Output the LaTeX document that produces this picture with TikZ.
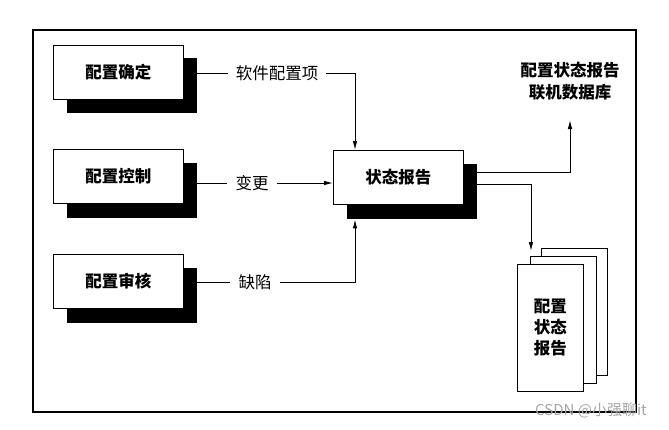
\documentclass[tikz,border=0pt]{standalone}
\usepackage{fontspec}
\newfontfamily\cjk{Noto Sans CJK SC}
\usetikzlibrary{arrows.meta}
\begin{document}
\begin{tikzpicture}[x=1pt,y=-1pt,
  mainbox/.style={draw, fill=white, line width=0.9pt, minimum width=130pt, minimum height=54pt, inner sep=0pt, anchor=north west, font=\cjk\bfseries\fontsize{16.5}{19}\selectfont},
  shadowbox/.style={fill=black, minimum width=130pt, minimum height=55pt, inner sep=0pt, anchor=north west},
  lbl/.style={font=\cjk\fontsize{16.5}{19}\selectfont, inner xsep=8pt, inner ysep=0pt},
  conn/.style={line width=0.9pt},
  arr/.style={conn, -{Latex[length=9pt,width=4.5pt]}},
  page/.style={draw, fill=white, line width=0.9pt, minimum width=66pt, minimum height=127pt, inner sep=0pt, anchor=north west}]
\useasboundingbox (0,0) rectangle (669,429);
\draw[line width=1.2pt] (33,30) rectangle (636,412);
% left boxes
\node[shadowbox] (s1) at (67,58) {};
\node[mainbox] (b1) at (53,45) {配置确定};
\node[shadowbox] (s2) at (67,163) {};
\node[mainbox] (b2) at (53,149) {配置控制};
\node[shadowbox] (s3) at (67,268) {};
\node[mainbox] (b3) at (53,254) {配置审核};
% centre box
\node[shadowbox] (cs) at (347,164) {};
\node[mainbox] (c) at (333,150) {状态报告};
% labels
\node[lbl] (l1) at (277,73) {软件配置项};
\node[lbl] (l2) at (252,183) {变更};
\node[lbl] (l3) at (255,282) {缺陷};
% connectors in
\draw[conn] (s1.east |- l1) -- (l1.west);
\draw[arr] (l1.east) -| ([xshift=22pt]c.north west);
\draw[conn] (s2.east |- l2) -- (l2.west);
\draw[arr] (l2.east) -- (c.west |- l2);
\draw[conn] (s3.east |- l3) -- (l3.west);
\draw[arr] (l3.east) -| ([xshift=8pt]cs.south west);
% database label
\node[font=\cjk\bfseries\fontsize{16.5}{22}\selectfont, align=center] (db) at (570,81) {配置状态报告\\联机数据库};
\coordinate (dbin) at (570,120);
\coordinate (t1) at (570,172);
\draw[arr] (cs.east |- t1) -| (dbin);
% documents
\node[page] (p3) at (541,248) {};
\node[page] (p2) at (530,256) {};
\node[page, align=center, font=\cjk\bfseries\fontsize{16.5}{21}\selectfont] (p1) at (517,264) {配置\\状态\\报告};
\coordinate (pin) at (531,251);
\coordinate (t2) at (531,184);
\draw[arr] (cs.east |- t2) -| (pin);
% watermark
\node[font=\cjk\fontsize{15}{17}\selectfont, text=gray!70] (wm) at (591,411) {CSDN @小强聊it};
\end{tikzpicture}
\end{document}
